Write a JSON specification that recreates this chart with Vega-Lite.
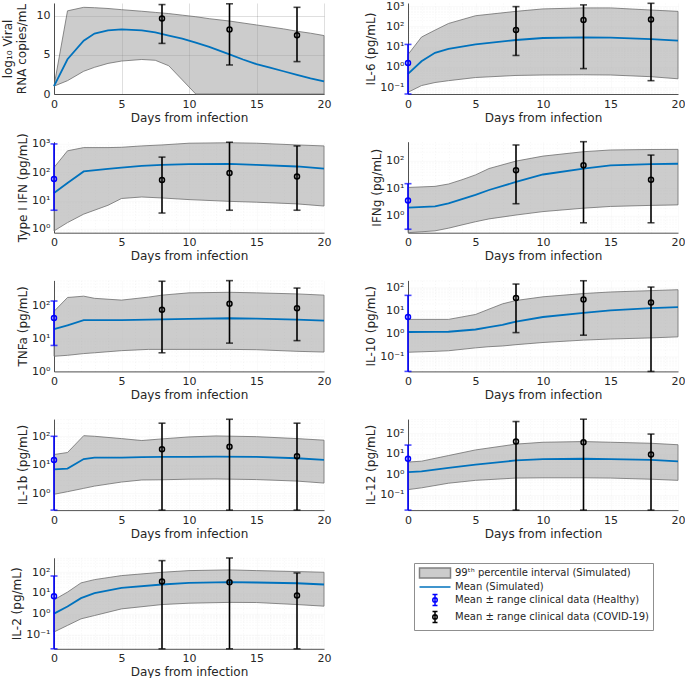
{
  "$schema": "https://vega.github.io/schema/vega-lite/v6.json",
  "padding": {"left": 1, "top": 0, "right": 0, "bottom": 0},
  "bounds": "flush",
  "columns": 2,
  "spacing": {"row": 47.7, "column": 84},
  "config": {
    "font": "DejaVu Sans",
    "view": {"stroke": null},
    "axis": {"labelFontSize": 11, "titleFontSize": 12, "titleFontWeight": "normal", "labelColor": "#262626", "titleColor": "#262626", "ticks": false, "domainColor": "#262626", "domainWidth": 0.8, "gridColor": "#262626", "gridOpacity": 0.15, "labelFlush": false, "labelOverlap": false, "labelPadding": 4},
    "axisX": {"titlePadding": 3},
    "axisY": {"titlePadding": 2}
  },
  "datasets": {
    "band": [
      {"p": "V", "d": 0, "lo": 1, "m": 1, "hi": 1},
      {"p": "V", "d": 1, "lo": 1.7, "m": 4.43, "hi": 10.6},
      {"p": "V", "d": 2.2, "lo": 2.9, "m": 6.8, "hi": 11.05},
      {"p": "V", "d": 3, "lo": 3.4, "m": 7.7, "hi": 11.0},
      {"p": "V", "d": 4, "lo": 3.9, "m": 8.1, "hi": 10.9},
      {"p": "V", "d": 5, "lo": 4.2, "m": 8.23, "hi": 10.75},
      {"p": "V", "d": 6.5, "lo": 4.4, "m": 8.1, "hi": 10.55},
      {"p": "V", "d": 7.5, "lo": 4.3, "m": 7.85, "hi": 10.4},
      {"p": "V", "d": 8.5, "lo": 3.6, "m": 7.45, "hi": 10.25},
      {"p": "V", "d": 9.5, "lo": 1.8, "m": 7.05, "hi": 10.05},
      {"p": "V", "d": 10.5, "lo": 0, "m": 6.55, "hi": 9.85},
      {"p": "V", "d": 11.5, "lo": 0, "m": 6.0, "hi": 9.6},
      {"p": "V", "d": 13, "lo": 0, "m": 5.06, "hi": 9.3},
      {"p": "V", "d": 14, "lo": 0, "m": 4.4, "hi": 9.05},
      {"p": "V", "d": 15, "lo": 0, "m": 3.8, "hi": 8.8},
      {"p": "V", "d": 16, "lo": 0, "m": 3.35, "hi": 8.55},
      {"p": "V", "d": 17, "lo": 0, "m": 2.9, "hi": 8.3},
      {"p": "V", "d": 18, "lo": 0, "m": 2.45, "hi": 8.0},
      {"p": "V", "d": 19, "lo": 0, "m": 2.0, "hi": 7.75},
      {"p": "V", "d": 20, "lo": 0, "m": 1.6, "hi": 7.45},

      {"p": "IL6", "d": 0, "lo": 0.056, "m": 0.45, "hi": 4.1},
      {"p": "IL6", "d": 1, "lo": 0.12, "m": 1.9, "hi": 30},
      {"p": "IL6", "d": 2, "lo": 0.17, "m": 5, "hi": 66},
      {"p": "IL6", "d": 3, "lo": 0.21, "m": 7.9, "hi": 141},
      {"p": "IL6", "d": 5, "lo": 0.3, "m": 13, "hi": 340},
      {"p": "IL6", "d": 8, "lo": 0.38, "m": 21.5, "hi": 560},
      {"p": "IL6", "d": 10, "lo": 0.4, "m": 27, "hi": 740},
      {"p": "IL6", "d": 13, "lo": 0.41, "m": 29, "hi": 830},
      {"p": "IL6", "d": 15, "lo": 0.4, "m": 28, "hi": 830},
      {"p": "IL6", "d": 18, "lo": 0.33, "m": 24, "hi": 650},
      {"p": "IL6", "d": 20, "lo": 0.26, "m": 20, "hi": 560},

      {"p": "IFN", "d": 0, "lo": 0.81, "m": 18, "hi": 145},
      {"p": "IFN", "d": 1, "lo": 1.6, "m": 41, "hi": 570},
      {"p": "IFN", "d": 2.2, "lo": 3.2, "m": 105, "hi": 740},
      {"p": "IFN", "d": 4, "lo": 6.6, "m": 130, "hi": 740},
      {"p": "IFN", "d": 5, "lo": 11.5, "m": 145, "hi": 760},
      {"p": "IFN", "d": 6.5, "lo": 13, "m": 165, "hi": 850},
      {"p": "IFN", "d": 8, "lo": 12, "m": 180, "hi": 920},
      {"p": "IFN", "d": 10, "lo": 10.5, "m": 190, "hi": 1060},
      {"p": "IFN", "d": 13, "lo": 9.1, "m": 195, "hi": 1100},
      {"p": "IFN", "d": 15, "lo": 8.5, "m": 180, "hi": 1060},
      {"p": "IFN", "d": 18, "lo": 7.4, "m": 158, "hi": 920},
      {"p": "IFN", "d": 20, "lo": 6.2, "m": 132, "hi": 850},

      {"p": "IFNg", "d": 0, "lo": 0.24, "m": 1.95, "hi": 10.5},
      {"p": "IFNg", "d": 2, "lo": 0.28, "m": 2.15, "hi": 11.5},
      {"p": "IFNg", "d": 3, "lo": 0.35, "m": 2.8, "hi": 14},
      {"p": "IFNg", "d": 4, "lo": 0.46, "m": 4.0, "hi": 20},
      {"p": "IFNg", "d": 5, "lo": 0.6, "m": 5.7, "hi": 30},
      {"p": "IFNg", "d": 6, "lo": 0.76, "m": 8.5, "hi": 51},
      {"p": "IFNg", "d": 8, "lo": 1.05, "m": 16.6, "hi": 95},
      {"p": "IFNg", "d": 10, "lo": 1.4, "m": 31, "hi": 144},
      {"p": "IFNg", "d": 13, "lo": 1.86, "m": 51, "hi": 208},
      {"p": "IFNg", "d": 15, "lo": 2.15, "m": 66, "hi": 240},
      {"p": "IFNg", "d": 18, "lo": 2.35, "m": 74, "hi": 250},
      {"p": "IFNg", "d": 20, "lo": 2.45, "m": 76, "hi": 253},

      {"p": "TNF", "d": 0, "lo": 2.9, "m": 19.4, "hi": 68},
      {"p": "TNF", "d": 1, "lo": 3.1, "m": 25.6, "hi": 180},
      {"p": "TNF", "d": 2.2, "lo": 3.5, "m": 36.6, "hi": 198},
      {"p": "TNF", "d": 3, "lo": 3.7, "m": 36.6, "hi": 170},
      {"p": "TNF", "d": 5, "lo": 4.3, "m": 36.6, "hi": 150},
      {"p": "TNF", "d": 7, "lo": 4.7, "m": 38, "hi": 185},
      {"p": "TNF", "d": 8, "lo": 4.7, "m": 39, "hi": 213},
      {"p": "TNF", "d": 10, "lo": 4.7, "m": 40, "hi": 250},
      {"p": "TNF", "d": 13, "lo": 4.7, "m": 42, "hi": 260},
      {"p": "TNF", "d": 15, "lo": 4.6, "m": 41, "hi": 250},
      {"p": "TNF", "d": 18, "lo": 4.1, "m": 38, "hi": 232},
      {"p": "TNF", "d": 20, "lo": 3.9, "m": 35.6, "hi": 213},

      {"p": "IL10", "d": 0, "lo": 0.155, "m": 1.17, "hi": 4.1},
      {"p": "IL10", "d": 2, "lo": 0.17, "m": 1.18, "hi": 4.1},
      {"p": "IL10", "d": 3, "lo": 0.18, "m": 1.2, "hi": 4.1},
      {"p": "IL10", "d": 5, "lo": 0.24, "m": 1.5, "hi": 6.7},
      {"p": "IL10", "d": 6, "lo": 0.27, "m": 1.9, "hi": 11.4},
      {"p": "IL10", "d": 7, "lo": 0.29, "m": 2.4, "hi": 19.3},
      {"p": "IL10", "d": 8, "lo": 0.33, "m": 3.3, "hi": 27},
      {"p": "IL10", "d": 10, "lo": 0.41, "m": 5.2, "hi": 39},
      {"p": "IL10", "d": 13, "lo": 0.52, "m": 7.9, "hi": 54},
      {"p": "IL10", "d": 15, "lo": 0.58, "m": 10, "hi": 63},
      {"p": "IL10", "d": 18, "lo": 0.65, "m": 12.6, "hi": 72},
      {"p": "IL10", "d": 20, "lo": 0.72, "m": 13.9, "hi": 79},

      {"p": "IL1b", "d": 0, "lo": 0.93, "m": 6.9, "hi": 23},
      {"p": "IL1b", "d": 1, "lo": 1.15, "m": 7.4, "hi": 27},
      {"p": "IL1b", "d": 2.2, "lo": 1.5, "m": 16, "hi": 105},
      {"p": "IL1b", "d": 3, "lo": 1.8, "m": 18, "hi": 100},
      {"p": "IL1b", "d": 5, "lo": 2.5, "m": 18, "hi": 83},
      {"p": "IL1b", "d": 6.5, "lo": 2.95, "m": 18.5, "hi": 71},
      {"p": "IL1b", "d": 8, "lo": 3.0, "m": 19, "hi": 81},
      {"p": "IL1b", "d": 10, "lo": 3.15, "m": 19, "hi": 95},
      {"p": "IL1b", "d": 12, "lo": 3.2, "m": 19.5, "hi": 103},
      {"p": "IL1b", "d": 15, "lo": 3.05, "m": 19, "hi": 97},
      {"p": "IL1b", "d": 18, "lo": 2.7, "m": 17, "hi": 83},
      {"p": "IL1b", "d": 20, "lo": 2.3, "m": 15, "hi": 73},

      {"p": "IL12", "d": 0, "lo": 0.18, "m": 1.3, "hi": 4},
      {"p": "IL12", "d": 1, "lo": 0.22, "m": 1.4, "hi": 4.4},
      {"p": "IL12", "d": 3, "lo": 0.37, "m": 2.1, "hi": 8.3},
      {"p": "IL12", "d": 5, "lo": 0.51, "m": 3.0, "hi": 15.6},
      {"p": "IL12", "d": 8, "lo": 0.66, "m": 4.8, "hi": 30},
      {"p": "IL12", "d": 10, "lo": 0.68, "m": 5.5, "hi": 37},
      {"p": "IL12", "d": 13, "lo": 0.68, "m": 5.8, "hi": 40},
      {"p": "IL12", "d": 15, "lo": 0.66, "m": 5.5, "hi": 37},
      {"p": "IL12", "d": 18, "lo": 0.58, "m": 5.1, "hi": 33},
      {"p": "IL12", "d": 20, "lo": 0.51, "m": 4.3, "hi": 28},

      {"p": "IL2", "d": 0, "lo": 0.13, "m": 1, "hi": 4.65},
      {"p": "IL2", "d": 1, "lo": 0.27, "m": 2.2, "hi": 11},
      {"p": "IL2", "d": 2, "lo": 0.56, "m": 5.6, "hi": 30.6},
      {"p": "IL2", "d": 3, "lo": 0.81, "m": 9.7, "hi": 44},
      {"p": "IL2", "d": 5, "lo": 1.7, "m": 17.6, "hi": 69},
      {"p": "IL2", "d": 8, "lo": 2.75, "m": 25.6, "hi": 100},
      {"p": "IL2", "d": 10, "lo": 3.2, "m": 31, "hi": 120},
      {"p": "IL2", "d": 13, "lo": 3.5, "m": 33, "hi": 130},
      {"p": "IL2", "d": 15, "lo": 3.45, "m": 32, "hi": 120},
      {"p": "IL2", "d": 18, "lo": 2.75, "m": 29.5, "hi": 108},
      {"p": "IL2", "d": 20, "lo": 2.3, "m": 25.6, "hi": 100}
    ],
    "err": [
      {"p": "V", "g": "COVID-19", "d": 8, "m": 9.62, "lo": 6.45, "hi": 11.4},
      {"p": "V", "g": "COVID-19", "d": 13, "m": 8.23, "lo": 3.7, "hi": 11.5},
      {"p": "V", "g": "COVID-19", "d": 18, "m": 7.5, "lo": 4.13, "hi": 11.05},
      {"p": "IL6", "g": "Healthy", "d": 0, "m": 1.58, "lo": 0.046, "hi": 13},
      {"p": "IL6", "g": "COVID-19", "d": 8, "m": 68, "lo": 3.7, "hi": 960},
      {"p": "IL6", "g": "COVID-19", "d": 13, "m": 207, "lo": 0.83, "hi": 1170},
      {"p": "IL6", "g": "COVID-19", "d": 18, "m": 224, "lo": 0.21, "hi": 1400},
      {"p": "IFN", "g": "Healthy", "d": 0, "m": 57, "lo": 4.4, "hi": 1000},
      {"p": "IFN", "g": "COVID-19", "d": 8, "m": 52, "lo": 3.5, "hi": 340},
      {"p": "IFN", "g": "COVID-19", "d": 13, "m": 92, "lo": 4.4, "hi": 1150},
      {"p": "IFN", "g": "COVID-19", "d": 18, "m": 70, "lo": 4.4, "hi": 850},
      {"p": "IFNg", "g": "Healthy", "d": 0, "m": 3.55, "lo": 0.32, "hi": 14.4},
      {"p": "IFNg", "g": "COVID-19", "d": 8, "m": 44, "lo": 2.7, "hi": 365},
      {"p": "IFNg", "g": "COVID-19", "d": 13, "m": 67, "lo": 0.55, "hi": 480},
      {"p": "IFNg", "g": "COVID-19", "d": 18, "m": 20, "lo": 0.55, "hi": 157},
      {"p": "TNF", "g": "Healthy", "d": 0, "m": 43, "lo": 6.2, "hi": 141},
      {"p": "TNF", "g": "COVID-19", "d": 8, "m": 76, "lo": 3.7, "hi": 565},
      {"p": "TNF", "g": "COVID-19", "d": 13, "m": 117, "lo": 7.3, "hi": 590},
      {"p": "TNF", "g": "COVID-19", "d": 18, "m": 85, "lo": 8.7, "hi": 350},
      {"p": "IL10", "g": "Healthy", "d": 0, "m": 5.2, "lo": 0.023, "hi": 45},
      {"p": "IL10", "g": "COVID-19", "d": 8, "m": 35, "lo": 1.1, "hi": 139},
      {"p": "IL10", "g": "COVID-19", "d": 13, "m": 30, "lo": 0.85, "hi": 193},
      {"p": "IL10", "g": "COVID-19", "d": 18, "m": 22, "lo": 0.023, "hi": 103},
      {"p": "IL1b", "g": "Healthy", "d": 0, "m": 14.8, "lo": 0.26, "hi": 100},
      {"p": "IL1b", "g": "COVID-19", "d": 8, "m": 35, "lo": 0.26, "hi": 288},
      {"p": "IL1b", "g": "COVID-19", "d": 13, "m": 43, "lo": 0.26, "hi": 395},
      {"p": "IL1b", "g": "COVID-19", "d": 18, "m": 20, "lo": 0.26, "hi": 288},
      {"p": "IL12", "g": "Healthy", "d": 0, "m": 5.8, "lo": 0.018, "hi": 27},
      {"p": "IL12", "g": "COVID-19", "d": 8, "m": 40, "lo": 0.018, "hi": 380},
      {"p": "IL12", "g": "COVID-19", "d": 13, "m": 37, "lo": 0.018, "hi": 495},
      {"p": "IL12", "g": "COVID-19", "d": 18, "m": 9.3, "lo": 0.018, "hi": 93},
      {"p": "IL2", "g": "Healthy", "d": 0, "m": 7, "lo": 0.02, "hi": 66},
      {"p": "IL2", "g": "COVID-19", "d": 8, "m": 35.6, "lo": 0.02, "hi": 365},
      {"p": "IL2", "g": "COVID-19", "d": 13, "m": 33, "lo": 0.02, "hi": 490},
      {"p": "IL2", "g": "COVID-19", "d": 18, "m": 7.6, "lo": 0.02, "hi": 93}
    ]
  },
  "concat": [
    {
      "width": 270, "height": 91,
      "layer": [
        {"data": {"name": "band"}, "transform": [{"filter": "datum.p == 'V'"}],
         "mark": {"type": "area", "fill": "#999999", "fillOpacity": 0.5, "stroke": "#6e6e6e", "strokeWidth": 0.8},
         "encoding": {
           "x": {"field": "d", "type": "quantitative", "scale": {"domain": [0, 20], "nice": false}, "axis": {"title": "Days from infection", "values": [0, 5, 10, 15, 20], "tickCount": 100, "format": "d"}},
           "y": {"field": "hi", "type": "quantitative", "scale": {"domain": [0, 11.6], "nice": false, "zero": false}, "title": ["log₁₀ Viral", "RNA copies/mL"], "axis": {"values": [0, 5, 10], "tickCount": 100, "format": "d", "titlePadding": 8}},
           "y2": {"field": "lo"}
         }},
        {"data": {"name": "band"}, "transform": [{"filter": "datum.p == 'V'"}],
         "mark": {"type": "line", "strokeWidth": 1.8},
         "encoding": {"x": {"field": "d", "type": "quantitative"}, "y": {"field": "m", "type": "quantitative", "title": ["log₁₀ Viral", "RNA copies/mL"]},
           "color": {"datum": "Mean (Simulated)", "type": "nominal",
             "scale": {"domain": ["99ᵗʰ percentile interval (Simulated)", "Mean (Simulated)", "Mean ± range clinical data (Healthy)", "Mean ± range clinical data (COVID-19)"], "range": ["#808080", "#0072BD", "#0000FF", "#000000"]},
             "legend": {"title": null, "orient": "none", "legendX": 360, "legendY": 560, "labelFontSize": 10, "labelColor": "#262626", "labelFont": "DejaVu Sans", "labelLimit": 400, "symbolSize": 100, "symbolOffset": 11, "labelOffset": 14, "rowPadding": -1, "padding": 4, "fillColor": "white", "strokeColor": "#8f8f8f", "symbolOpacity": 1, "symbolStrokeWidth": 1.5,
               "symbolType": {"expr": "indexof(datum.value, 'percentile') >= 0 ? 'M-3.1,-1H3.1V1H-3.1Z' : datum.value === 'Mean (Simulated)' ? 'M-3.1,0H3.1' : 'M-0.5,-1.1H0.5M0,-1.1V1.1M-0.5,1.1H0.5M0.45,0A0.45,0.45 0 1,1 -0.45,0A0.45,0.45 0 1,1 0.45,0'"},
               "symbolFillColor": {"expr": "indexof(datum.value, 'percentile') >= 0 ? '#cccccc' : 'transparent'"}
             }}}},
        {"data": {"name": "err"}, "transform": [{"filter": "datum.p == 'V'"}],
         "mark": {"type": "errorbar", "ticks": {"size": 7}, "thickness": 1.6},
         "encoding": {"x": {"field": "d", "type": "quantitative"}, "y": {"field": "lo", "type": "quantitative", "title": ["log₁₀ Viral", "RNA copies/mL"]}, "y2": {"field": "hi"}, "color": {"condition": {"test": "datum.g == 'Healthy'", "value": "#0000FF"}, "value": "#000000"}}},
        {"data": {"name": "err"}, "transform": [{"filter": "datum.p == 'V'"}],
         "mark": {"type": "point", "filled": false, "size": 25, "strokeWidth": 1.5, "opacity": 1},
         "encoding": {"x": {"field": "d", "type": "quantitative"}, "y": {"field": "m", "type": "quantitative", "title": ["log₁₀ Viral", "RNA copies/mL"]}, "color": {"condition": {"test": "datum.g == 'Healthy'", "value": "#0000FF"}, "value": "#000000"}}}
      ]
    },
    {
      "width": 270, "height": 91,
      "layer": [
        {"data": {"name": "band"}, "transform": [{"filter": "datum.p == 'IL6'"}],
         "mark": {"type": "area", "fill": "#999999", "fillOpacity": 0.5, "stroke": "#6e6e6e", "strokeWidth": 0.8},
         "encoding": {
           "x": {"field": "d", "type": "quantitative", "scale": {"domain": [0, 20], "nice": false}, "axis": {"title": "Days from infection", "format": "d", "values": [0,1,2,3,4,5,6,7,8,9,10,11,12,13,14,15,16,17,18,19,20], "tickCount": 100, "labelExpr": "datum.value % 5 == 0 ? datum.label : ''", "gridDash": {"condition": {"test": "datum.value % 5 != 0", "value": [1, 2]}, "value": []}, "gridOpacity": {"condition": {"test": "datum.value % 5 != 0", "value": 0.3}, "value": 0.15}}},
           "y": {"field": "hi", "type": "quantitative", "scale": {"type": "log", "domain": [0.046, 1450], "nice": false}, "title": "IL-6 (pg/mL)", "axis": {"values": [0.01,0.02,0.03,0.04,0.05,0.06,0.07,0.08,0.09,0.1,0.2,0.3,0.4,0.5,0.6,0.7,0.8,0.9,1,2,3,4,5,6,7,8,9,10,20,30,40,50,60,70,80,90,100,200,300,400,500,600,700,800,900,1000,2000], "tickCount": 100, "labelExpr": "abs(log(datum.value)/LN10-round(log(datum.value)/LN10))>0.01 ? '' : ['10⁻²','10⁻¹','10⁰','10¹','10²','10³'][round(log(datum.value)/LN10)+2]", "gridDash": {"condition": {"test": "abs(log(datum.value)/LN10-round(log(datum.value)/LN10))>0.01", "value": [1, 2]}, "value": []}, "gridOpacity": {"condition": {"test": "abs(log(datum.value)/LN10-round(log(datum.value)/LN10))>0.01", "value": 0.3}, "value": 0.15}}},
           "y2": {"field": "lo"}
         }},
        {"data": {"name": "band"}, "transform": [{"filter": "datum.p == 'IL6'"}],
         "mark": {"type": "line", "color": "#0072BD", "strokeWidth": 1.8},
         "encoding": {"x": {"field": "d", "type": "quantitative"}, "y": {"field": "m", "type": "quantitative", "title": "IL-6 (pg/mL)"}}},
        {"data": {"name": "err"}, "transform": [{"filter": "datum.p == 'IL6'"}],
         "mark": {"type": "errorbar", "ticks": {"size": 7}, "thickness": 1.6},
         "encoding": {"x": {"field": "d", "type": "quantitative"}, "y": {"field": "lo", "type": "quantitative", "title": "IL-6 (pg/mL)"}, "y2": {"field": "hi"}, "color": {"condition": {"test": "datum.g == 'Healthy'", "value": "#0000FF"}, "value": "#000000"}}},
        {"data": {"name": "err"}, "transform": [{"filter": "datum.p == 'IL6'"}],
         "mark": {"type": "point", "filled": false, "size": 25, "strokeWidth": 1.5, "opacity": 1},
         "encoding": {"x": {"field": "d", "type": "quantitative"}, "y": {"field": "m", "type": "quantitative", "title": "IL-6 (pg/mL)"}, "color": {"condition": {"test": "datum.g == 'Healthy'", "value": "#0000FF"}, "value": "#000000"}}}
      ]
    },
    {
      "width": 270, "height": 91,
      "layer": [
        {"data": {"name": "band"}, "transform": [{"filter": "datum.p == 'IFN'"}],
         "mark": {"type": "area", "fill": "#999999", "fillOpacity": 0.5, "stroke": "#6e6e6e", "strokeWidth": 0.8},
         "encoding": {
           "x": {"field": "d", "type": "quantitative", "scale": {"domain": [0, 20], "nice": false}, "axis": {"title": "Days from infection", "format": "d", "values": [0,1,2,3,4,5,6,7,8,9,10,11,12,13,14,15,16,17,18,19,20], "tickCount": 100, "labelExpr": "datum.value % 5 == 0 ? datum.label : ''", "gridDash": {"condition": {"test": "datum.value % 5 != 0", "value": [1, 2]}, "value": []}, "gridOpacity": {"condition": {"test": "datum.value % 5 != 0", "value": 0.3}, "value": 0.15}}},
           "y": {"field": "hi", "type": "quantitative", "scale": {"type": "log", "domain": [0.7, 1200], "nice": false}, "title": "Type I IFN (pg/mL)", "axis": {"values": [0.01,0.02,0.03,0.04,0.05,0.06,0.07,0.08,0.09,0.1,0.2,0.3,0.4,0.5,0.6,0.7,0.8,0.9,1,2,3,4,5,6,7,8,9,10,20,30,40,50,60,70,80,90,100,200,300,400,500,600,700,800,900,1000,2000], "tickCount": 100, "labelExpr": "abs(log(datum.value)/LN10-round(log(datum.value)/LN10))>0.01 ? '' : ['10⁻²','10⁻¹','10⁰','10¹','10²','10³'][round(log(datum.value)/LN10)+2]", "gridDash": {"condition": {"test": "abs(log(datum.value)/LN10-round(log(datum.value)/LN10))>0.01", "value": [1, 2]}, "value": []}, "gridOpacity": {"condition": {"test": "abs(log(datum.value)/LN10-round(log(datum.value)/LN10))>0.01", "value": 0.3}, "value": 0.15}}},
           "y2": {"field": "lo"}
         }},
        {"data": {"name": "band"}, "transform": [{"filter": "datum.p == 'IFN'"}],
         "mark": {"type": "line", "color": "#0072BD", "strokeWidth": 1.8},
         "encoding": {"x": {"field": "d", "type": "quantitative"}, "y": {"field": "m", "type": "quantitative", "title": "Type I IFN (pg/mL)"}}},
        {"data": {"name": "err"}, "transform": [{"filter": "datum.p == 'IFN'"}],
         "mark": {"type": "errorbar", "ticks": {"size": 7}, "thickness": 1.6},
         "encoding": {"x": {"field": "d", "type": "quantitative"}, "y": {"field": "lo", "type": "quantitative", "title": "Type I IFN (pg/mL)"}, "y2": {"field": "hi"}, "color": {"condition": {"test": "datum.g == 'Healthy'", "value": "#0000FF"}, "value": "#000000"}}},
        {"data": {"name": "err"}, "transform": [{"filter": "datum.p == 'IFN'"}],
         "mark": {"type": "point", "filled": false, "size": 25, "strokeWidth": 1.5, "opacity": 1},
         "encoding": {"x": {"field": "d", "type": "quantitative"}, "y": {"field": "m", "type": "quantitative", "title": "Type I IFN (pg/mL)"}, "color": {"condition": {"test": "datum.g == 'Healthy'", "value": "#0000FF"}, "value": "#000000"}}}
      ]
    },
    {
      "width": 270, "height": 91,
      "layer": [
        {"data": {"name": "band"}, "transform": [{"filter": "datum.p == 'IFNg'"}],
         "mark": {"type": "area", "fill": "#999999", "fillOpacity": 0.5, "stroke": "#6e6e6e", "strokeWidth": 0.8},
         "encoding": {
           "x": {"field": "d", "type": "quantitative", "scale": {"domain": [0, 20], "nice": false}, "axis": {"title": "Days from infection", "format": "d", "values": [0,1,2,3,4,5,6,7,8,9,10,11,12,13,14,15,16,17,18,19,20], "tickCount": 100, "labelExpr": "datum.value % 5 == 0 ? datum.label : ''", "gridDash": {"condition": {"test": "datum.value % 5 != 0", "value": [1, 2]}, "value": []}, "gridOpacity": {"condition": {"test": "datum.value % 5 != 0", "value": 0.3}, "value": 0.15}}},
           "y": {"field": "hi", "type": "quantitative", "scale": {"type": "log", "domain": [0.24, 480], "nice": false}, "title": "IFNg (pg/mL)", "axis": {"values": [0.01,0.02,0.03,0.04,0.05,0.06,0.07,0.08,0.09,0.1,0.2,0.3,0.4,0.5,0.6,0.7,0.8,0.9,1,2,3,4,5,6,7,8,9,10,20,30,40,50,60,70,80,90,100,200,300,400,500,600,700,800,900,1000,2000], "tickCount": 100, "labelExpr": "abs(log(datum.value)/LN10-round(log(datum.value)/LN10))>0.01 ? '' : ['10⁻²','10⁻¹','10⁰','10¹','10²','10³'][round(log(datum.value)/LN10)+2]", "gridDash": {"condition": {"test": "abs(log(datum.value)/LN10-round(log(datum.value)/LN10))>0.01", "value": [1, 2]}, "value": []}, "gridOpacity": {"condition": {"test": "abs(log(datum.value)/LN10-round(log(datum.value)/LN10))>0.01", "value": 0.3}, "value": 0.15}}},
           "y2": {"field": "lo"}
         }},
        {"data": {"name": "band"}, "transform": [{"filter": "datum.p == 'IFNg'"}],
         "mark": {"type": "line", "color": "#0072BD", "strokeWidth": 1.8},
         "encoding": {"x": {"field": "d", "type": "quantitative"}, "y": {"field": "m", "type": "quantitative", "title": "IFNg (pg/mL)"}}},
        {"data": {"name": "err"}, "transform": [{"filter": "datum.p == 'IFNg'"}],
         "mark": {"type": "errorbar", "ticks": {"size": 7}, "thickness": 1.6},
         "encoding": {"x": {"field": "d", "type": "quantitative"}, "y": {"field": "lo", "type": "quantitative", "title": "IFNg (pg/mL)"}, "y2": {"field": "hi"}, "color": {"condition": {"test": "datum.g == 'Healthy'", "value": "#0000FF"}, "value": "#000000"}}},
        {"data": {"name": "err"}, "transform": [{"filter": "datum.p == 'IFNg'"}],
         "mark": {"type": "point", "filled": false, "size": 25, "strokeWidth": 1.5, "opacity": 1},
         "encoding": {"x": {"field": "d", "type": "quantitative"}, "y": {"field": "m", "type": "quantitative", "title": "IFNg (pg/mL)"}, "color": {"condition": {"test": "datum.g == 'Healthy'", "value": "#0000FF"}, "value": "#000000"}}}
      ]
    },
    {
      "width": 270, "height": 91,
      "layer": [
        {"data": {"name": "band"}, "transform": [{"filter": "datum.p == 'TNF'"}],
         "mark": {"type": "area", "fill": "#999999", "fillOpacity": 0.5, "stroke": "#6e6e6e", "strokeWidth": 0.8},
         "encoding": {
           "x": {"field": "d", "type": "quantitative", "scale": {"domain": [0, 20], "nice": false}, "axis": {"title": "Days from infection", "format": "d", "values": [0,1,2,3,4,5,6,7,8,9,10,11,12,13,14,15,16,17,18,19,20], "tickCount": 100, "labelExpr": "datum.value % 5 == 0 ? datum.label : ''", "gridDash": {"condition": {"test": "datum.value % 5 != 0", "value": [1, 2]}, "value": []}, "gridOpacity": {"condition": {"test": "datum.value % 5 != 0", "value": 0.3}, "value": 0.15}}},
           "y": {"field": "hi", "type": "quantitative", "scale": {"type": "log", "domain": [1, 600], "nice": false}, "title": "TNFa (pg/mL)", "axis": {"values": [0.01,0.02,0.03,0.04,0.05,0.06,0.07,0.08,0.09,0.1,0.2,0.3,0.4,0.5,0.6,0.7,0.8,0.9,1,2,3,4,5,6,7,8,9,10,20,30,40,50,60,70,80,90,100,200,300,400,500,600,700,800,900,1000,2000], "tickCount": 100, "labelExpr": "abs(log(datum.value)/LN10-round(log(datum.value)/LN10))>0.01 ? '' : ['10⁻²','10⁻¹','10⁰','10¹','10²','10³'][round(log(datum.value)/LN10)+2]", "gridDash": {"condition": {"test": "abs(log(datum.value)/LN10-round(log(datum.value)/LN10))>0.01", "value": [1, 2]}, "value": []}, "gridOpacity": {"condition": {"test": "abs(log(datum.value)/LN10-round(log(datum.value)/LN10))>0.01", "value": 0.3}, "value": 0.15}}},
           "y2": {"field": "lo"}
         }},
        {"data": {"name": "band"}, "transform": [{"filter": "datum.p == 'TNF'"}],
         "mark": {"type": "line", "color": "#0072BD", "strokeWidth": 1.8},
         "encoding": {"x": {"field": "d", "type": "quantitative"}, "y": {"field": "m", "type": "quantitative", "title": "TNFa (pg/mL)"}}},
        {"data": {"name": "err"}, "transform": [{"filter": "datum.p == 'TNF'"}],
         "mark": {"type": "errorbar", "ticks": {"size": 7}, "thickness": 1.6},
         "encoding": {"x": {"field": "d", "type": "quantitative"}, "y": {"field": "lo", "type": "quantitative", "title": "TNFa (pg/mL)"}, "y2": {"field": "hi"}, "color": {"condition": {"test": "datum.g == 'Healthy'", "value": "#0000FF"}, "value": "#000000"}}},
        {"data": {"name": "err"}, "transform": [{"filter": "datum.p == 'TNF'"}],
         "mark": {"type": "point", "filled": false, "size": 25, "strokeWidth": 1.5, "opacity": 1},
         "encoding": {"x": {"field": "d", "type": "quantitative"}, "y": {"field": "m", "type": "quantitative", "title": "TNFa (pg/mL)"}, "color": {"condition": {"test": "datum.g == 'Healthy'", "value": "#0000FF"}, "value": "#000000"}}}
      ]
    },
    {
      "width": 270, "height": 91,
      "layer": [
        {"data": {"name": "band"}, "transform": [{"filter": "datum.p == 'IL10'"}],
         "mark": {"type": "area", "fill": "#999999", "fillOpacity": 0.5, "stroke": "#6e6e6e", "strokeWidth": 0.8},
         "encoding": {
           "x": {"field": "d", "type": "quantitative", "scale": {"domain": [0, 20], "nice": false}, "axis": {"title": "Days from infection", "format": "d", "values": [0,1,2,3,4,5,6,7,8,9,10,11,12,13,14,15,16,17,18,19,20], "tickCount": 100, "labelExpr": "datum.value % 5 == 0 ? datum.label : ''", "gridDash": {"condition": {"test": "datum.value % 5 != 0", "value": [1, 2]}, "value": []}, "gridOpacity": {"condition": {"test": "datum.value % 5 != 0", "value": 0.3}, "value": 0.15}}},
           "y": {"field": "hi", "type": "quantitative", "scale": {"type": "log", "domain": [0.023, 200], "nice": false}, "title": "IL-10 (pg/mL)", "axis": {"values": [0.01,0.02,0.03,0.04,0.05,0.06,0.07,0.08,0.09,0.1,0.2,0.3,0.4,0.5,0.6,0.7,0.8,0.9,1,2,3,4,5,6,7,8,9,10,20,30,40,50,60,70,80,90,100,200,300,400,500,600,700,800,900,1000,2000], "tickCount": 100, "labelExpr": "abs(log(datum.value)/LN10-round(log(datum.value)/LN10))>0.01 ? '' : ['10⁻²','10⁻¹','10⁰','10¹','10²','10³'][round(log(datum.value)/LN10)+2]", "gridDash": {"condition": {"test": "abs(log(datum.value)/LN10-round(log(datum.value)/LN10))>0.01", "value": [1, 2]}, "value": []}, "gridOpacity": {"condition": {"test": "abs(log(datum.value)/LN10-round(log(datum.value)/LN10))>0.01", "value": 0.3}, "value": 0.15}}},
           "y2": {"field": "lo"}
         }},
        {"data": {"name": "band"}, "transform": [{"filter": "datum.p == 'IL10'"}],
         "mark": {"type": "line", "color": "#0072BD", "strokeWidth": 1.8},
         "encoding": {"x": {"field": "d", "type": "quantitative"}, "y": {"field": "m", "type": "quantitative", "title": "IL-10 (pg/mL)"}}},
        {"data": {"name": "err"}, "transform": [{"filter": "datum.p == 'IL10'"}],
         "mark": {"type": "errorbar", "ticks": {"size": 7}, "thickness": 1.6},
         "encoding": {"x": {"field": "d", "type": "quantitative"}, "y": {"field": "lo", "type": "quantitative", "title": "IL-10 (pg/mL)"}, "y2": {"field": "hi"}, "color": {"condition": {"test": "datum.g == 'Healthy'", "value": "#0000FF"}, "value": "#000000"}}},
        {"data": {"name": "err"}, "transform": [{"filter": "datum.p == 'IL10'"}],
         "mark": {"type": "point", "filled": false, "size": 25, "strokeWidth": 1.5, "opacity": 1},
         "encoding": {"x": {"field": "d", "type": "quantitative"}, "y": {"field": "m", "type": "quantitative", "title": "IL-10 (pg/mL)"}, "color": {"condition": {"test": "datum.g == 'Healthy'", "value": "#0000FF"}, "value": "#000000"}}}
      ]
    },
    {
      "width": 270, "height": 91,
      "layer": [
        {"data": {"name": "band"}, "transform": [{"filter": "datum.p == 'IL1b'"}],
         "mark": {"type": "area", "fill": "#999999", "fillOpacity": 0.5, "stroke": "#6e6e6e", "strokeWidth": 0.8},
         "encoding": {
           "x": {"field": "d", "type": "quantitative", "scale": {"domain": [0, 20], "nice": false}, "axis": {"title": "Days from infection", "format": "d", "values": [0,1,2,3,4,5,6,7,8,9,10,11,12,13,14,15,16,17,18,19,20], "tickCount": 100, "labelExpr": "datum.value % 5 == 0 ? datum.label : ''", "gridDash": {"condition": {"test": "datum.value % 5 != 0", "value": [1, 2]}, "value": []}, "gridOpacity": {"condition": {"test": "datum.value % 5 != 0", "value": 0.3}, "value": 0.15}}},
           "y": {"field": "hi", "type": "quantitative", "scale": {"type": "log", "domain": [0.26, 400], "nice": false}, "title": "IL-1b (pg/mL)", "axis": {"values": [0.01,0.02,0.03,0.04,0.05,0.06,0.07,0.08,0.09,0.1,0.2,0.3,0.4,0.5,0.6,0.7,0.8,0.9,1,2,3,4,5,6,7,8,9,10,20,30,40,50,60,70,80,90,100,200,300,400,500,600,700,800,900,1000,2000], "tickCount": 100, "labelExpr": "abs(log(datum.value)/LN10-round(log(datum.value)/LN10))>0.01 ? '' : ['10⁻²','10⁻¹','10⁰','10¹','10²','10³'][round(log(datum.value)/LN10)+2]", "gridDash": {"condition": {"test": "abs(log(datum.value)/LN10-round(log(datum.value)/LN10))>0.01", "value": [1, 2]}, "value": []}, "gridOpacity": {"condition": {"test": "abs(log(datum.value)/LN10-round(log(datum.value)/LN10))>0.01", "value": 0.3}, "value": 0.15}}},
           "y2": {"field": "lo"}
         }},
        {"data": {"name": "band"}, "transform": [{"filter": "datum.p == 'IL1b'"}],
         "mark": {"type": "line", "color": "#0072BD", "strokeWidth": 1.8},
         "encoding": {"x": {"field": "d", "type": "quantitative"}, "y": {"field": "m", "type": "quantitative", "title": "IL-1b (pg/mL)"}}},
        {"data": {"name": "err"}, "transform": [{"filter": "datum.p == 'IL1b'"}],
         "mark": {"type": "errorbar", "ticks": {"size": 7}, "thickness": 1.6},
         "encoding": {"x": {"field": "d", "type": "quantitative"}, "y": {"field": "lo", "type": "quantitative", "title": "IL-1b (pg/mL)"}, "y2": {"field": "hi"}, "color": {"condition": {"test": "datum.g == 'Healthy'", "value": "#0000FF"}, "value": "#000000"}}},
        {"data": {"name": "err"}, "transform": [{"filter": "datum.p == 'IL1b'"}],
         "mark": {"type": "point", "filled": false, "size": 25, "strokeWidth": 1.5, "opacity": 1},
         "encoding": {"x": {"field": "d", "type": "quantitative"}, "y": {"field": "m", "type": "quantitative", "title": "IL-1b (pg/mL)"}, "color": {"condition": {"test": "datum.g == 'Healthy'", "value": "#0000FF"}, "value": "#000000"}}}
      ]
    },
    {
      "width": 270, "height": 91,
      "layer": [
        {"data": {"name": "band"}, "transform": [{"filter": "datum.p == 'IL12'"}],
         "mark": {"type": "area", "fill": "#999999", "fillOpacity": 0.5, "stroke": "#6e6e6e", "strokeWidth": 0.8},
         "encoding": {
           "x": {"field": "d", "type": "quantitative", "scale": {"domain": [0, 20], "nice": false}, "axis": {"title": "Days from infection", "format": "d", "values": [0,1,2,3,4,5,6,7,8,9,10,11,12,13,14,15,16,17,18,19,20], "tickCount": 100, "labelExpr": "datum.value % 5 == 0 ? datum.label : ''", "gridDash": {"condition": {"test": "datum.value % 5 != 0", "value": [1, 2]}, "value": []}, "gridOpacity": {"condition": {"test": "datum.value % 5 != 0", "value": 0.3}, "value": 0.15}}},
           "y": {"field": "hi", "type": "quantitative", "scale": {"type": "log", "domain": [0.018, 500], "nice": false}, "title": "IL-12 (pg/mL)", "axis": {"values": [0.01,0.02,0.03,0.04,0.05,0.06,0.07,0.08,0.09,0.1,0.2,0.3,0.4,0.5,0.6,0.7,0.8,0.9,1,2,3,4,5,6,7,8,9,10,20,30,40,50,60,70,80,90,100,200,300,400,500,600,700,800,900,1000,2000], "tickCount": 100, "labelExpr": "abs(log(datum.value)/LN10-round(log(datum.value)/LN10))>0.01 ? '' : ['10⁻²','10⁻¹','10⁰','10¹','10²','10³'][round(log(datum.value)/LN10)+2]", "gridDash": {"condition": {"test": "abs(log(datum.value)/LN10-round(log(datum.value)/LN10))>0.01", "value": [1, 2]}, "value": []}, "gridOpacity": {"condition": {"test": "abs(log(datum.value)/LN10-round(log(datum.value)/LN10))>0.01", "value": 0.3}, "value": 0.15}}},
           "y2": {"field": "lo"}
         }},
        {"data": {"name": "band"}, "transform": [{"filter": "datum.p == 'IL12'"}],
         "mark": {"type": "line", "color": "#0072BD", "strokeWidth": 1.8},
         "encoding": {"x": {"field": "d", "type": "quantitative"}, "y": {"field": "m", "type": "quantitative", "title": "IL-12 (pg/mL)"}}},
        {"data": {"name": "err"}, "transform": [{"filter": "datum.p == 'IL12'"}],
         "mark": {"type": "errorbar", "ticks": {"size": 7}, "thickness": 1.6},
         "encoding": {"x": {"field": "d", "type": "quantitative"}, "y": {"field": "lo", "type": "quantitative", "title": "IL-12 (pg/mL)"}, "y2": {"field": "hi"}, "color": {"condition": {"test": "datum.g == 'Healthy'", "value": "#0000FF"}, "value": "#000000"}}},
        {"data": {"name": "err"}, "transform": [{"filter": "datum.p == 'IL12'"}],
         "mark": {"type": "point", "filled": false, "size": 25, "strokeWidth": 1.5, "opacity": 1},
         "encoding": {"x": {"field": "d", "type": "quantitative"}, "y": {"field": "m", "type": "quantitative", "title": "IL-12 (pg/mL)"}, "color": {"condition": {"test": "datum.g == 'Healthy'", "value": "#0000FF"}, "value": "#000000"}}}
      ]
    },
    {
      "width": 270, "height": 91,
      "layer": [
        {"data": {"name": "band"}, "transform": [{"filter": "datum.p == 'IL2'"}],
         "mark": {"type": "area", "fill": "#999999", "fillOpacity": 0.5, "stroke": "#6e6e6e", "strokeWidth": 0.8},
         "encoding": {
           "x": {"field": "d", "type": "quantitative", "scale": {"domain": [0, 20], "nice": false}, "axis": {"title": "Days from infection", "format": "d", "values": [0,1,2,3,4,5,6,7,8,9,10,11,12,13,14,15,16,17,18,19,20], "tickCount": 100, "labelExpr": "datum.value % 5 == 0 ? datum.label : ''", "gridDash": {"condition": {"test": "datum.value % 5 != 0", "value": [1, 2]}, "value": []}, "gridOpacity": {"condition": {"test": "datum.value % 5 != 0", "value": 0.3}, "value": 0.15}}},
           "y": {"field": "hi", "type": "quantitative", "scale": {"type": "log", "domain": [0.02, 500], "nice": false}, "title": "IL-2 (pg/mL)", "axis": {"values": [0.01,0.02,0.03,0.04,0.05,0.06,0.07,0.08,0.09,0.1,0.2,0.3,0.4,0.5,0.6,0.7,0.8,0.9,1,2,3,4,5,6,7,8,9,10,20,30,40,50,60,70,80,90,100,200,300,400,500,600,700,800,900,1000,2000], "tickCount": 100, "labelExpr": "abs(log(datum.value)/LN10-round(log(datum.value)/LN10))>0.01 ? '' : ['10⁻²','10⁻¹','10⁰','10¹','10²','10³'][round(log(datum.value)/LN10)+2]", "gridDash": {"condition": {"test": "abs(log(datum.value)/LN10-round(log(datum.value)/LN10))>0.01", "value": [1, 2]}, "value": []}, "gridOpacity": {"condition": {"test": "abs(log(datum.value)/LN10-round(log(datum.value)/LN10))>0.01", "value": 0.3}, "value": 0.15}}},
           "y2": {"field": "lo"}
         }},
        {"data": {"name": "band"}, "transform": [{"filter": "datum.p == 'IL2'"}],
         "mark": {"type": "line", "color": "#0072BD", "strokeWidth": 1.8},
         "encoding": {"x": {"field": "d", "type": "quantitative"}, "y": {"field": "m", "type": "quantitative", "title": "IL-2 (pg/mL)"}}},
        {"data": {"name": "err"}, "transform": [{"filter": "datum.p == 'IL2'"}],
         "mark": {"type": "errorbar", "ticks": {"size": 7}, "thickness": 1.6},
         "encoding": {"x": {"field": "d", "type": "quantitative"}, "y": {"field": "lo", "type": "quantitative", "title": "IL-2 (pg/mL)"}, "y2": {"field": "hi"}, "color": {"condition": {"test": "datum.g == 'Healthy'", "value": "#0000FF"}, "value": "#000000"}}},
        {"data": {"name": "err"}, "transform": [{"filter": "datum.p == 'IL2'"}],
         "mark": {"type": "point", "filled": false, "size": 25, "strokeWidth": 1.5, "opacity": 1},
         "encoding": {"x": {"field": "d", "type": "quantitative"}, "y": {"field": "m", "type": "quantitative", "title": "IL-2 (pg/mL)"}, "color": {"condition": {"test": "datum.g == 'Healthy'", "value": "#0000FF"}, "value": "#000000"}}}
      ]
    }
  ]
}
